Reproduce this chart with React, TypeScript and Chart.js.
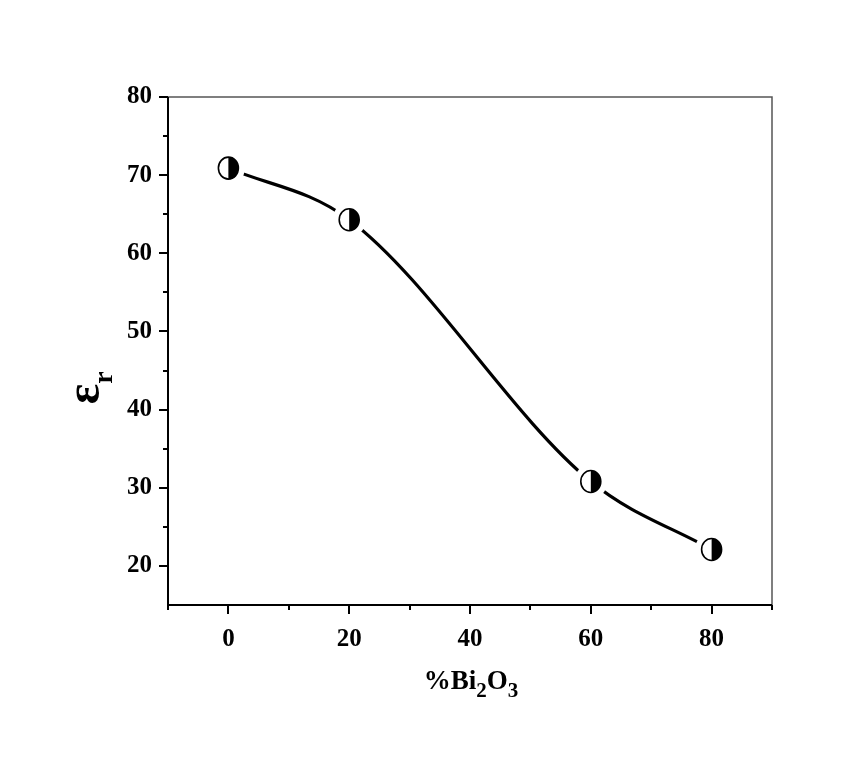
import React, { useEffect, useRef } from "react";
import { Chart, registerables } from "chart.js";

Chart.register(...registerables);

const bi2o3Percent = [0, 20, 60, 80];
const permittivity = [70.9, 64.3, 30.8, 22.1];
const xTicks = [0, 20, 40, 60, 80];
const xMinorTicks = [-10, 10, 30, 50, 70, 90];
const yTicks = [20, 30, 40, 50, 60, 70, 80];
const yMinorTicks = [25, 35, 45, 55, 65, 75];

const SERIF = '"Liberation Serif", "Times New Roman", serif';

const decorations = {
  id: "decorations",
  beforeDatasetsDraw(chart: any) {
    const { ctx, chartArea: a, scales } = chart;
    const xs = scales.x;
    const ys = scales.y;
    ctx.save();
    // frame: top/right thin grey, left/bottom black
    ctx.strokeStyle = "#555";
    ctx.lineWidth = 1.5;
    ctx.beginPath();
    ctx.moveTo(a.left, a.top);
    ctx.lineTo(a.right, a.top);
    ctx.lineTo(a.right, a.bottom);
    ctx.stroke();
    ctx.strokeStyle = "#000";
    ctx.lineWidth = 2;
    ctx.beginPath();
    ctx.moveTo(a.left, a.top);
    ctx.lineTo(a.left, a.bottom);
    ctx.lineTo(a.right, a.bottom);
    ctx.stroke();
    // outward ticks
    ctx.lineWidth = 2;
    ctx.beginPath();
    for (const v of xTicks) {
      const px = Math.round(xs.getPixelForValue(v));
      ctx.moveTo(px, a.bottom);
      ctx.lineTo(px, a.bottom + 9);
    }
    for (const v of xMinorTicks) {
      const px = Math.round(xs.getPixelForValue(v));
      ctx.moveTo(px, a.bottom);
      ctx.lineTo(px, a.bottom + 5);
    }
    for (const v of yTicks) {
      const py = Math.round(ys.getPixelForValue(v));
      ctx.moveTo(a.left, py);
      ctx.lineTo(a.left - 9, py);
    }
    for (const v of yMinorTicks) {
      const py = Math.round(ys.getPixelForValue(v));
      ctx.moveTo(a.left, py);
      ctx.lineTo(a.left - 5, py);
    }
    ctx.stroke();

    // x axis title: %Bi2O3
    ctx.fillStyle = "#000";
    ctx.textBaseline = "alphabetic";
    const big = `bold 27px ${SERIF}`;
    const small = `bold 21px ${SERIF}`;
    const parts: [string, boolean][] = [["%Bi", false], ["2", true], ["O", false], ["3", true]];
    let total = 0;
    for (const [t, sub] of parts) {
      ctx.font = sub ? small : big;
      total += ctx.measureText(t).width;
    }
    let x = (a.left + a.right) / 2 - total / 2 + 1;
    const base = 689;
    for (const [t, sub] of parts) {
      ctx.font = sub ? small : big;
      ctx.textAlign = "left";
      ctx.fillText(t, x, sub ? base + 8 : base);
      x += ctx.measureText(t).width;
    }

    // y axis title: epsilon_r
    ctx.save();
    ctx.translate(99, 394);
    ctx.rotate(-Math.PI / 2);
    ctx.font = `bold 48px ${SERIF}`;
    ctx.textAlign = "left";
    const ew = ctx.measureText("ε").width;
    ctx.fillText("ε", -ew / 2, 0);
    ctx.font = `bold 28px ${SERIF}`;
    ctx.fillText("r", ew / 2, 13);
    ctx.restore();
    ctx.restore();
  },
  afterDatasetsDraw(chart: any) {
    const { ctx } = chart;
    const meta = chart.getDatasetMeta(0);
    ctx.save();
    for (const el of meta.data) {
      const { x, y } = el;
      // white halo leaves a gap between curve and marker
      ctx.fillStyle = "#fff";
      ctx.beginPath();
      ctx.ellipse(x, y, 16.5, 17.5, 0, 0, Math.PI * 2);
      ctx.fill();
      // half-filled ellipse marker
      ctx.fillStyle = "#000";
      ctx.beginPath();
      ctx.ellipse(x, y, 10, 11, 0, -Math.PI / 2, Math.PI / 2);
      ctx.closePath();
      ctx.fill();
      ctx.strokeStyle = "#000";
      ctx.lineWidth = 1.6;
      ctx.beginPath();
      ctx.ellipse(x, y, 10, 11, 0, 0, Math.PI * 2);
      ctx.stroke();
    }
    ctx.restore();
  },
};

export default function App() {
  const ref = useRef<HTMLCanvasElement>(null);
  useEffect(() => {
    if (!ref.current) return;
    const chart = new Chart(ref.current, {
      type: "line",
      data: {
        datasets: [
          {
            data: bi2o3Percent.map((v, i) => ({ x: v, y: permittivity[i] })),
            borderColor: "#000",
            borderWidth: 3.2,
            cubicInterpolationMode: "monotone",
            pointRadius: 0,
            fill: false,
          },
        ],
      },
      options: {
        animation: false,
        responsive: false,
        maintainAspectRatio: false,
        layout: { padding: { left: 0, top: 97, right: 73, bottom: 0 } },
        plugins: { legend: { display: false }, tooltip: { enabled: false } },
        scales: {
          x: {
            type: "linear",
            min: -10,
            max: 90,
            grid: { display: false, drawTicks: false },
            border: { display: false },
            afterBuildTicks: (s: any) => {
              s.ticks = xTicks.map((v) => ({ value: v }));
            },
            afterFit: (s: any) => {
              s.height = 159;
            },
            ticks: {
              color: "#000",
              padding: 20,
              font: { family: SERIF, size: 25, weight: "bold" },
            },
          },
          y: {
            type: "linear",
            min: 15,
            max: 80,
            grid: { display: false, drawTicks: false },
            border: { display: false },
            afterBuildTicks: (s: any) => {
              s.ticks = yTicks.map((v) => ({ value: v }));
            },
            afterFit: (s: any) => {
              s.width = 168;
            },
            ticks: {
              color: "#000",
              padding: 16,
              font: { family: SERIF, size: 25, weight: "bold" },
            },
          },
        },
      },
      plugins: [decorations],
    });
    return () => chart.destroy();
  }, []);
  return (
    <div style={{ position: "fixed", left: 0, top: 0, width: 845, height: 764, background: "#fff" }}>
      <canvas ref={ref} width={845} height={764} />
    </div>
  );
}
